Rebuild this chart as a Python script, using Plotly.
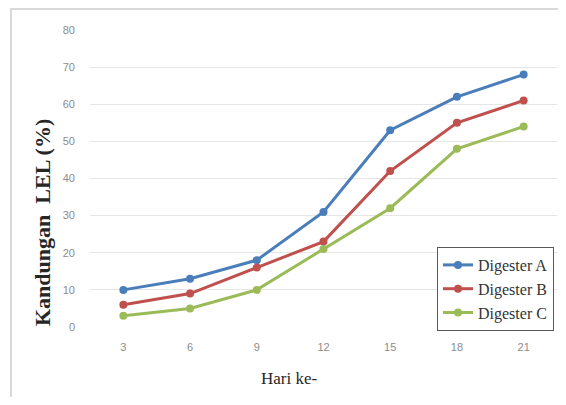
import plotly.graph_objects as go

days = ["3", "6", "9", "12", "15", "18", "21"]
digester_a = [10, 13, 18, 31, 53, 62, 68]
digester_b = [6, 9, 16, 23, 42, 55, 61]
digester_c = [3, 5, 10, 21, 32, 48, 54]
y_ticks = [0, 10, 20, 30, 40, 50, 60, 70, 80]

series = [
    ("Digester A", digester_a, "#4A7EBB"),
    ("Digester B", digester_b, "#C0504D"),
    ("Digester C", digester_c, "#9BBB59"),
]

fig = go.Figure()
for name, vals, col in series:
    fig.add_trace(go.Scatter(
        x=days, y=vals, name=name, mode="lines+markers",
        line=dict(color=col, width=3),
        marker=dict(color=col, size=8, symbol="circle"),
    ))

# page has an 8px body margin; figure starts at (8, 8) on the page
OFF = 8
PL, PR, PT, PB = 90, 557, 30, 327  # plot area in page pixels
W, H = 566 - 2 * OFF, 405 - 2 * OFF
L, T = PL - OFF, PT - OFF
R = (OFF + W) - PR
B = (OFF + H) - PB
pw, ph = PR - PL, PB - PT

def px_x(x):
    return (x - PL) / pw

def px_y(y):
    return (PB - y) / ph

fig.update_layout(
    width=W, height=H,
    margin=dict(l=L, r=R, t=T, b=B, pad=0),
    paper_bgcolor="white", plot_bgcolor="white",
    showlegend=True,
    legend=dict(
        x=px_x(437), y=px_y(247), xanchor="left", yanchor="top",
        bgcolor="white", bordercolor="#595959", borderwidth=1,
        font=dict(family="Liberation Serif", size=16, color="#333333"),
        itemwidth=30, tracegroupgap=0,
    ),
    xaxis=dict(
        type="category", range=[-0.5, 6.5],
        showgrid=False, zeroline=False, showline=False,
        ticks="", ticklabelstandoff=12,
        tickfont=dict(family="Liberation Sans", size=11, color="#8c8c8c"),
    ),
    yaxis=dict(
        range=[0, 80], tickvals=y_ticks,
        showgrid=True, gridcolor="#e6e6e6", gridwidth=1,
        zeroline=False, showline=False, ticks="",
        ticklabelstandoff=14,
        tickfont=dict(family="Liberation Sans", size=11, color="#8c8c8c"),
    ),
    shapes=[
        dict(type="rect", xref="paper", yref="paper",
             x0=px_x(11), x1=px_x(580), y0=px_y(430), y1=px_y(9),
             line=dict(color="#d9d9d9", width=2), fillcolor="rgba(0,0,0,0)",
             layer="below"),
    ],
    annotations=[
        dict(text="Hari ke-", xref="paper", yref="paper",
             x=px_x(289), y=px_y(378), xanchor="center", yanchor="middle",
             showarrow=False,
             font=dict(family="Liberation Serif", size=17, color="#262626")),
        dict(text="<b>Kandungan  LEL (%)</b>", xref="paper", yref="paper",
             x=px_x(42), y=px_y(223), xanchor="center", yanchor="middle",
             textangle=-90, showarrow=False,
             font=dict(family="Liberation Serif", size=22, color="#262626")),
    ],
)

fig.write_html("out.html")
